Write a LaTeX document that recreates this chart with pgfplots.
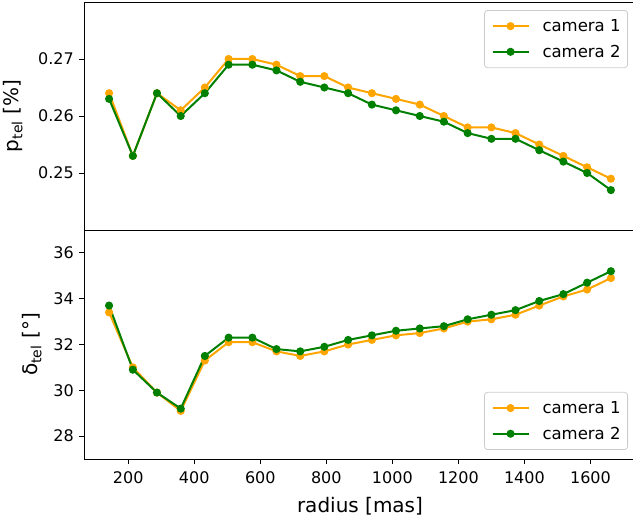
\documentclass[border=0pt]{standalone}
\usepackage{fontspec}
\setmainfont{DejaVu Sans}
\usepackage{pgfplots}
\pgfplotsset{compat=1.18}
\definecolor{mplorange}{HTML}{FFA500}
\definecolor{mplgreen}{HTML}{008000}
\begin{document}
\begin{tikzpicture}
\pgfplotsset{
  every axis/.append style={
    scale only axis, width=552pt, xmin=66, xmax=1738,
    axis line style={line width=0.9pt},
    tick align=outside, tick pos=left,
    major tick length=5pt,
    every tick/.style={black, line width=0.9pt},
    /pgf/number format/assume math mode=true,
    tick label style={font=\fontsize{16}{19}\selectfont, inner sep=0pt},
    xticklabel style={yshift=-7pt},
    yticklabel style={xshift=-5pt},
    label style={font=\fontsize{20}{24}\selectfont, inner sep=0pt},
    legend style={font=\fontsize{16.5}{19}\selectfont, draw=black!20, line width=0.8pt,
      rounded corners=3pt, inner xsep=7pt, inner ysep=9pt, row sep=12pt, column sep=13pt,
      nodes={inner sep=0pt},
      cells={anchor=west}},
    legend cell align=left,
    legend image code/.code={\draw[mark repeat=2, mark phase=2] plot coordinates {(0pt,0pt) (18pt,0pt) (36pt,0pt)};},
  },
  every axis plot/.append style={line width=2pt, mark=*, mark size=3pt},
}
% top panel
\begin{axis}[
  at={(0pt,229pt)}, anchor=south west, height=228pt,
  ymin=0.24, ymax=0.28, ytick={0.25,0.26,0.27},
  scaled y ticks=false,
  yticklabel style={/pgf/number format/.cd, fixed, fixed zerofill, precision=2},
  xtick=\empty,
  ylabel={p\textsubscript{tel} [\%]},
  ylabel style={at={(axis description cs:-0.11,0.5)}, anchor=south},
  legend style={at={(axis description cs:0.9855,0.9649)}, anchor=north east},
]
\addplot[color=mplorange] coordinates {
(142,0.264) (214,0.253) (287,0.264) (359,0.261) (432,0.265) (504,0.270) (576,0.270) (649,0.269) (721,0.267) (794,0.267) (866,0.265) (938,0.264) (1011,0.263) (1083,0.262) (1156,0.260) (1228,0.258) (1300,0.258) (1373,0.257) (1445,0.255) (1518,0.253) (1590,0.251) (1662,0.249)
};
\addlegendentry{camera 1}
\addplot[color=mplgreen] coordinates {
(142,0.263) (214,0.253) (287,0.264) (359,0.260) (432,0.264) (504,0.269) (576,0.269) (649,0.268) (721,0.266) (794,0.265) (866,0.264) (938,0.262) (1011,0.261) (1083,0.260) (1156,0.259) (1228,0.257) (1300,0.256) (1373,0.256) (1445,0.254) (1518,0.252) (1590,0.250) (1662,0.247)
};
\addlegendentry{camera 2}
\end{axis}
% bottom panel
\begin{axis}[
  at={(0pt,0pt)}, anchor=south west, height=229pt,
  ymin=27, ymax=37, ytick={28,30,32,34,36},
  xtick={200,400,600,800,1000,1200,1400,1600},
  xticklabel style={/pgf/number format/set thousands separator={}},
  xlabel={radius [mas]},
  xlabel style={at={(axis description cs:0.5,-0.2358)}, anchor=base},
  ylabel={δ\textsubscript{tel} [°]},
  ylabel style={at={(axis description cs:-0.0765,0.5)}, anchor=south},
  legend style={at={(axis description cs:0.9855,0.0393)}, anchor=south east},
]
\addplot[color=mplorange] coordinates {
(142,33.4) (214,31.0) (287,29.9) (359,29.1) (432,31.3) (504,32.1) (576,32.1) (649,31.7) (721,31.5) (794,31.7) (866,32.0) (938,32.2) (1011,32.4) (1083,32.5) (1156,32.7) (1228,33.0) (1300,33.1) (1373,33.3) (1445,33.7) (1518,34.1) (1590,34.4) (1662,34.9)
};
\addlegendentry{camera 1}
\addplot[color=mplgreen] coordinates {
(142,33.7) (214,30.9) (287,29.9) (359,29.2) (432,31.5) (504,32.3) (576,32.3) (649,31.8) (721,31.7) (794,31.9) (866,32.2) (938,32.4) (1011,32.6) (1083,32.7) (1156,32.8) (1228,33.1) (1300,33.3) (1373,33.5) (1445,33.9) (1518,34.2) (1590,34.7) (1662,35.2)
};
\addlegendentry{camera 2}
\end{axis}
\pgfresetboundingbox
\path[use as bounding box] (-84pt,-58pt) rectangle (549pt,459pt);
\end{tikzpicture}
\end{document}
